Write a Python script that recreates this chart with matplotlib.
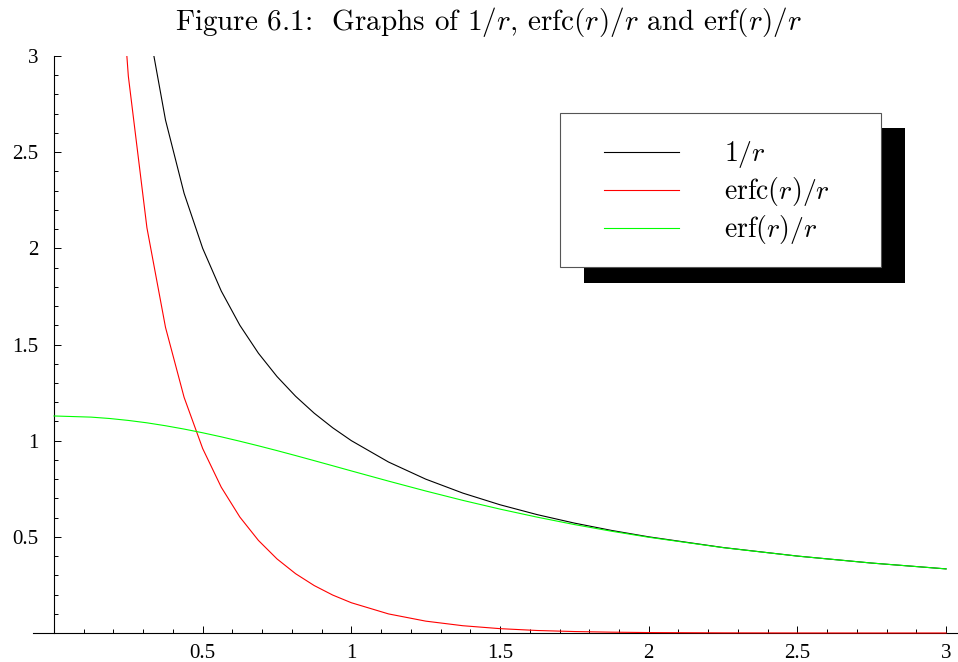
import numpy as np
import matplotlib
matplotlib.use("Agg")
import matplotlib.pyplot as plt
from matplotlib.patches import Rectangle
from matplotlib.lines import Line2D

plt.rcParams['font.family'] = 'serif'
plt.rcParams['font.serif'] = ['cmr10']
plt.rcParams['mathtext.fontset'] = 'cm'
plt.rcParams['axes.unicode_minus'] = False

# sample points along r
r = [0.0, 0.125, 0.1875, 0.25, 0.3125, 0.375, 0.4375, 0.5, 0.5625, 0.625,
     0.6875, 0.75, 0.8125, 0.875, 0.9375, 1.0, 1.125, 1.25, 1.375, 1.5,
     1.625, 1.75, 1.875, 2.0, 2.25, 2.5, 2.75, 3.0]

inv_r = [None, 8.0, 5.333, 4.0, 3.2, 2.667, 2.286, 2.0, 1.778, 1.6,
         1.4545, 1.3333, 1.2308, 1.1429, 1.0667, 1.0, 0.8889, 0.8, 0.7273, 0.6667,
         0.6154, 0.5714, 0.5333, 0.5, 0.4444, 0.4, 0.3636, 0.3333]

erfc_r = [None, 6.878, 4.218, 2.895, 2.107, 1.589, 1.2254, 0.959, 0.7579, 0.6029,
          0.4813, 0.3851, 0.3083, 0.2467, 0.1971, 0.1573, 0.0992, 0.0617, 0.0378, 0.0226,
          0.0130, 0.0076, 0.0043, 0.0023, 0.0007, 0.0002, 0.00004, 0.00001]

erf_r = [1.1284, 1.1224, 1.1152, 1.1052, 1.0928, 1.0776, 1.0603, 1.0410, 1.0199, 0.9971,
         0.9732, 0.9483, 0.9225, 0.8961, 0.8695, 0.8427, 0.7897, 0.7383, 0.6895, 0.6441,
         0.6023, 0.5638, 0.5291, 0.4977, 0.4438, 0.3998, 0.3636, 0.3333]

labels = [r'$1/r$', r'$\mathrm{erfc}(r)/r$', r'$\mathrm{erf}(r)/r$']
colors = ['#000000', '#ff0000', '#00ff00']
series = [inv_r, erfc_r, erf_r]

x_ticks = [0.5, 1, 1.5, 2, 2.5, 3]
x_tick_labels = ['0.5', '1', '1.5', '2', '2.5', '3']
y_ticks = [0.5, 1, 1.5, 2, 2.5, 3]
y_tick_labels = ['0.5', '1', '1.5', '2', '2.5', '3']
minor_ticks = [k / 10 for k in range(1, 30) if k % 5 != 0]

W, H = 958, 662
fig = plt.figure(figsize=(W / 100, H / 100), dpi=100)


def fx(px):
    return px / W


def fy(py):
    return 1 - py / H


# axes frame in pixel terms: x=0 at 54px, x=3 at 946px; y=0 at 633px, y=3 at 56px
x_lo, x_hi = -0.0706, 3.04
y_lo, y_hi = -0.05, 3.0
ax_left, ax_right = 33, 958
ax_top = 56
ax_bottom = 633 + 0.05 * (633 - 56) / 3
ax = fig.add_axes([fx(ax_left), fy(ax_bottom), fx(ax_right) - fx(ax_left),
                   fy(ax_top) - fy(ax_bottom)])
ax.set_xlim(x_lo, x_hi)
ax.set_ylim(y_lo, y_hi)

for vals, c, lab in zip(series, colors, labels):
    ax.plot(r, np.array(vals, dtype=float), color=c, lw=0.8, zorder=3, label=lab)

ax.spines['top'].set_visible(False)
ax.spines['right'].set_visible(False)
ax.spines['left'].set_position(('data', 0))
ax.spines['left'].set_bounds(0, 3)
ax.spines['bottom'].set_position(('data', 0))
for s in ('left', 'bottom'):
    ax.spines[s].set_linewidth(0.8)

tick_font = {'family': 'Liberation Serif', 'size': 15}
ax.set_xticks(x_ticks)
ax.set_xticklabels(x_tick_labels, fontdict=tick_font)
ax.set_yticks(y_ticks)
ax.set_yticklabels(y_tick_labels, fontdict=tick_font)
ax.set_xticks(minor_ticks, minor=True)
ax.set_yticks(minor_ticks, minor=True)
ax.tick_params(which='both', direction='in', width=0.7)
ax.tick_params(which='major', length=5)
ax.tick_params(which='minor', length=3.2)
ax.tick_params(axis='x', which='major', pad=8)
ax.tick_params(axis='y', which='major', pad=11)

fig.text(fx(488), fy(22),
         r'Figure 6.1:  Graphs of $1/r$, $\mathrm{erfc}(r)/r$ and $\mathrm{erf}(r)/r$',
         ha='center', va='center', fontsize=21)

# legend panel with drop shadow
fig.add_artist(Rectangle((fx(584), fy(283)), fx(905) - fx(584), fy(128) - fy(283),
                         transform=fig.transFigure, facecolor='black',
                         edgecolor='none', zorder=5))
fig.add_artist(Rectangle((fx(560), fy(267)), fx(881) - fx(560), fy(113) - fy(267),
                         transform=fig.transFigure, facecolor='white',
                         edgecolor='#555555', lw=0.8, zorder=6))
for i, (c, lab) in enumerate(zip(colors, labels)):
    yl = 152 + 38 * i
    fig.add_artist(Line2D([fx(604), fx(679)], [fy(yl), fy(yl)],
                          transform=fig.transFigure, color=c, lw=0.8, zorder=7))
    fig.text(fx(724), fy(yl + 9), lab, ha='left', va='baseline',
             fontsize=20, zorder=7)

fig.savefig('out.png', dpi=100)
